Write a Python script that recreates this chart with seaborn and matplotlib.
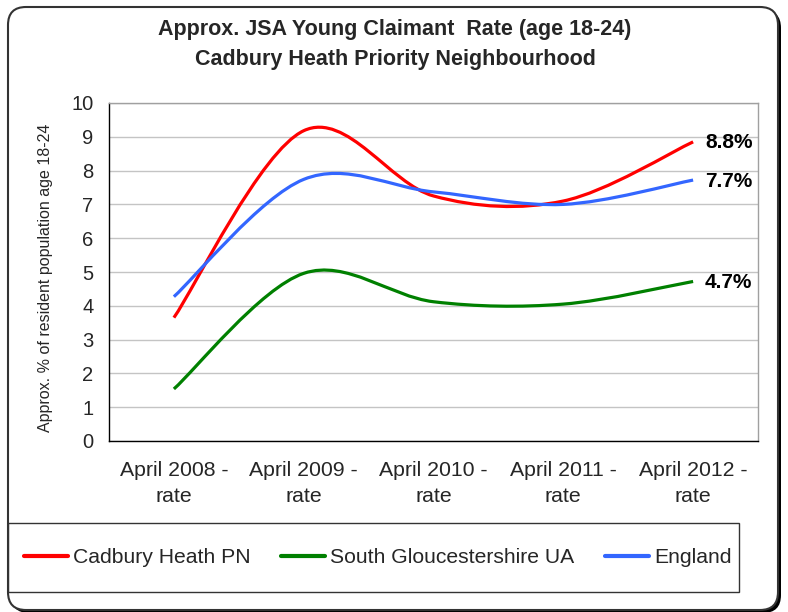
import numpy as np
import pandas as pd
import matplotlib
matplotlib.use("Agg")
import matplotlib.pyplot as plt
import seaborn as sns
from matplotlib.path import Path
from matplotlib.patches import PathPatch, FancyBboxPatch, Rectangle
from matplotlib.lines import Line2D

# ---------------- data ----------------
categories = ["April 2008 -\nrate", "April 2009 -\nrate", "April 2010 -\nrate",
              "April 2011 -\nrate", "April 2012 -\nrate"]
cadbury = [3.65, 9.18, 7.25, 7.10, 8.85]
south_glos = [1.54, 4.96, 4.12, 4.05, 4.72]
england = [4.27, 7.74, 7.37, 7.00, 7.72]
series_names = ["Cadbury Heath PN", "South Gloucestershire UA", "England"]
end_labels = ["8.8%", "4.7%", "7.7%"]
colors = ["#FF0000", "#008000", "#3366FF"]

title_line1 = "Approx. JSA Young Claimant  Rate (age 18-24)"
title_line2 = "Cadbury Heath Priority Neighbourhood"
ylabel = "Approx. % of resident population age 18-24"

df = pd.DataFrame({
    "pos": list(range(len(categories))) * 3,
    "value": cadbury + south_glos + england,
    "series": sum([[s] * len(categories) for s in series_names], []),
})

# ---------------- style ----------------
sns.set_style("white")
plt.rcParams["font.family"] = ["Liberation Sans", "DejaVu Sans"]

W, H = 788, 612
fig = plt.figure(figsize=(W / 100, H / 100), dpi=100)

# background frame (pixel coordinates)
bg = fig.add_axes([0, 0, 1, 1], zorder=0)
bg.set_xlim(0, W)
bg.set_ylim(H, 0)
bg.axis("off")
bg.add_patch(FancyBboxPatch((11, 10), 770, 603, boxstyle="round,pad=0,rounding_size=18",
                            fc="black", ec="none"))
bg.add_patch(FancyBboxPatch((8, 7), 770, 603, boxstyle="round,pad=0,rounding_size=18",
                            fc="white", ec="#333333", lw=1.5))
bg.add_patch(Rectangle((8, 523), 731, 69, fc="none", ec="#333333", lw=1))

ax = fig.add_axes([109 / W, 1 - 441 / H, 649 / W, 338 / H], zorder=1)
ax.set_facecolor("none")


def smooth_path(xs, ys):
    pts = np.column_stack([xs, ys]).astype(float)
    n = len(pts)
    verts = [pts[0]]
    codes = [Path.MOVETO]
    for i in range(n - 1):
        p0 = pts[max(i - 1, 0)]
        p1 = pts[i]
        p2 = pts[i + 1]
        p3 = pts[min(i + 2, n - 1)]
        c1 = p1 + (p2 - p0) / 6.0
        c2 = p2 - (p3 - p1) / 6.0
        verts += [c1, c2, p2]
        codes += [Path.CURVE4] * 3
    return Path(verts, codes)


handles = []
for name, color, lab in zip(series_names, colors, end_labels):
    sub = df[df["series"] == name]
    path = smooth_path(sub["pos"].values, sub["value"].values)
    ax.add_patch(PathPatch(path, fc="none", ec=color, lw=2.3, capstyle="butt",
                           joinstyle="round", transform=ax.transData, zorder=3))
    ax.annotate(lab, xy=(sub["pos"].values[-1], sub["value"].values[-1]),
                xytext=(12, -1), textcoords="offset pixels", ha="left", va="center",
                fontsize=15, fontweight="bold", color="black")
    handles.append(Line2D([], [], color=color, lw=3))

ax.set_xlim(-0.5, len(categories) - 0.5)
ax.set_ylim(0, 10)
ax.set_yticks(range(0, 11))
ax.set_xticks(range(len(categories)), categories)
ax.set_xticks(np.arange(-0.5, len(categories)), minor=True)
ax.tick_params(axis="x", which="major", length=0, pad=14.5, labelsize=15.3)
ax.tick_params(axis="x", which="minor", length=4.3, width=1, direction="out", color="black")
ax.tick_params(axis="y", which="major", length=4.3, width=1, direction="out", color="black",
               pad=7, labelsize=14.5)
for lbl in ax.get_xticklabels():
    lbl.set_linespacing(1.45)
ax.yaxis.grid(True, color="#c4c4c4", lw=1)
ax.set_axisbelow(True)
for s in ["left", "bottom"]:
    ax.spines[s].set_color("black")
    ax.spines[s].set_linewidth(1)
for s in ["top", "right"]:
    ax.spines[s].set_color("#a0a0a0")
    ax.spines[s].set_linewidth(1)

ax.set_ylabel(ylabel, fontsize=11.5)
ax.yaxis.set_label_coords((53 - 109) / 649, 0.482)

fig.text(395 / W, 1 - 29 / H, title_line1, ha="center", va="center", fontsize=15.5,
         fontweight="bold")
fig.text(395 / W, 1 - 59 / H, title_line2, ha="center", va="center", fontsize=15.5,
         fontweight="bold")

fig.legend(handles, series_names, loc="center left", bbox_to_anchor=(24 / W, 1 - 557.5 / H),
           ncol=3, frameon=False, fontsize=15.2, handlelength=2.07, handletextpad=0.25,
           columnspacing=1.45, borderpad=0, borderaxespad=0)

fig.savefig("out.png", dpi=100)
